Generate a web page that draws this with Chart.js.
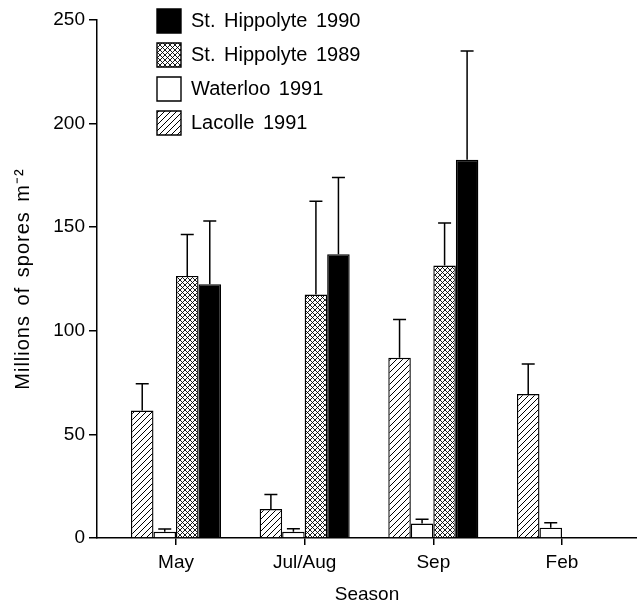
<!DOCTYPE html>
<html><head><meta charset="utf-8">
<script src="https://cdn.jsdelivr.net/npm/chart.js@4.4.1/dist/chart.umd.min.js"></script>
<style>html,body{margin:0;padding:0;background:#fff}#wrap{width:637px;height:610px;position:relative}</style>
</head><body><div id="wrap"><canvas id="c" width="637" height="610"></canvas></div>
<script>
const seasons = ['May', 'Jul/Aug', 'Sep', 'Feb'];
const lacolle1991 = [61.5, 14, 87, 69.5];
const lacolle1991Err = [13, 7, 18.5, 14.5];
const waterloo1991 = [3, 3, 7, 5];
const waterloo1991Err = [1.3, 1.5, 2, 2.3];
const stHippolyte1989 = [126.5, 117.5, 131.5, null];
const stHippolyte1989Err = [20, 45, 20.5, null];
const stHippolyte1990 = [122.5, 137, 182.5, null];
const stHippolyte1990Err = [30.5, 37, 52.5, null];
const yTicks = [0, 50, 100, 150, 200, 250];

function makePattern(kind) {
  const s = kind === 'hatch' ? 6 : 5;
  const c = document.createElement('canvas');
  c.width = s; c.height = s;
  const g = c.getContext('2d');
  g.fillStyle = '#fff'; g.fillRect(0, 0, s, s);
  g.strokeStyle = '#000'; g.lineWidth = kind === 'hatch' ? 1 : 0.9;
  g.beginPath();
  g.moveTo(-1, s + 1); g.lineTo(s + 1, -1);
  if (kind === 'cross') { g.moveTo(-1, -1); g.lineTo(s + 1, s + 1); }
  g.stroke();
  return g.createPattern(c, 'repeat');
}

const FONT = { family: '"Liberation Sans", Arial, sans-serif', size: 19 };
const LFONT = { family: '"Liberation Sans", Arial, sans-serif', size: 20 };
const YFONT = { family: '"Liberation Sans", Arial, sans-serif', size: 20 };
const toPts = arr => arr.map((v, i) => ({ x: i, y: v }));
const errs = [lacolle1991Err, waterloo1991Err, stHippolyte1989Err, stHippolyte1990Err];

const spacing = {
  id: 'spacing',
  afterLayout(chart) {
    const ys = chart.scales.y;
    if (!ys._spaced) {
      const orig = ys.drawTitle.bind(ys);
      ys.drawTitle = function () {
        const c = this.ctx, old = c.letterSpacing;
        c.letterSpacing = '1px';
        orig();
        c.letterSpacing = old;
      };
      ys._spaced = true;
    }
  },
  beforeDraw(chart) { chart.ctx.wordSpacing = '3px'; }
};

const errorBars = {
  id: 'errorBars',
  afterDatasetsDraw(chart) {
    const ctx = chart.ctx, ys = chart.scales.y;
    ctx.save();
    ctx.strokeStyle = '#000'; ctx.lineWidth = 1.5;
    chart.data.datasets.forEach((ds, di) => {
      const meta = chart.getDatasetMeta(di);
      meta.data.forEach((el, i) => {
        const v = ds.data[i].y, e = errs[di][i];
        if (v == null || e == null) return;
        const yt = ys.getPixelForValue(v + e);
        ctx.beginPath();
        ctx.moveTo(el.x, el.y); ctx.lineTo(el.x, yt);
        ctx.moveTo(el.x - 6.5, yt); ctx.lineTo(el.x + 6.5, yt);
        ctx.stroke();
      });
    });
    ctx.restore();
  }
};

const legendPlace = {
  id: 'legendPlace',
  afterLayout(chart) {
    const lg = chart.legend;
    const w = lg.width, h = lg.height;
    lg.left = 147; lg.top = -1; lg.right = lg.left + w; lg.bottom = lg.top + h;
  }
};

const common = { borderColor: '#000', borderWidth: 1.4, categoryPercentage: 0.7, barPercentage: 1.0 };

new Chart(document.getElementById('c'), {
  type: 'bar',
  data: {
    datasets: [
      Object.assign({ label: 'Lacolle 1991', data: toPts(lacolle1991), backgroundColor: makePattern('hatch') }, common),
      Object.assign({ label: 'Waterloo 1991', data: toPts(waterloo1991), backgroundColor: '#fff' }, common),
      Object.assign({ label: 'St. Hippolyte 1989', data: toPts(stHippolyte1989), backgroundColor: makePattern('cross') }, common),
      Object.assign({ label: 'St. Hippolyte 1990', data: toPts(stHippolyte1990), backgroundColor: '#000' }, common)
    ]
  },
  options: {
    responsive: false,
    animation: false,
    devicePixelRatio: 1,
    layout: { padding: { top: 20, right: 0, left: 0, bottom: 0 } },
    plugins: {
      tooltip: { enabled: false },
      legend: {
        position: 'chartArea', align: 'start', reverse: true,
        labels: { boxWidth: 24, boxHeight: 24, padding: 10, color: '#000', font: LFONT }
      }
    },
    scales: {
      x: {
        type: 'linear', min: -0.614, max: 3.583, offset: false,
        afterBuildTicks: s => { s.ticks = seasons.map((_, i) => ({ value: i })); },
        afterFit: s => { s.height = 72; },
        ticks: { callback: v => seasons[v], color: '#000', font: FONT, padding: 6, maxRotation: 0, autoSkip: false },
        grid: { offset: false, drawOnChartArea: false, drawTicks: true, tickLength: 7, color: '#000', lineWidth: 1.5 },
        border: { color: '#000', width: 1.5 },
        title: { display: true, text: 'Season', color: '#000', font: FONT, padding: { top: 4, bottom: 4 } }
      },
      y: {
        min: 0, max: 250,
        afterBuildTicks: s => { s.ticks = yTicks.map(v => ({ value: v })); },
        afterFit: s => { s.width = 97; },
        ticks: { color: '#000', font: FONT, padding: 4 },
        grid: { drawOnChartArea: false, drawTicks: true, tickLength: 8, color: '#000', lineWidth: 1.5 },
        border: { color: '#000', width: 1.5 },
        title: { display: true, text: 'Millions of spores m\u207B\u00B2', color: '#000', font: YFONT, padding: { top: 11, bottom: 4 } }
      }
    }
  },
  plugins: [spacing, errorBars, legendPlace]
});
</script>
</body></html>
